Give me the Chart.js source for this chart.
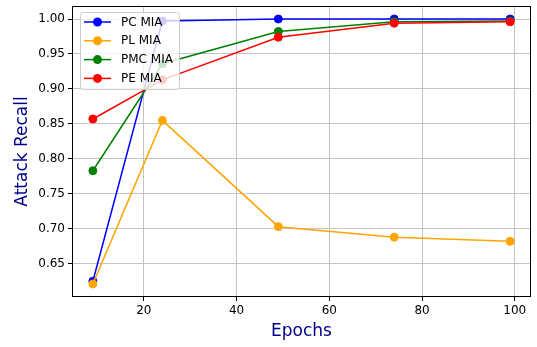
<!DOCTYPE html>
<html>
<head>
<meta charset="utf-8">
<script src="https://cdn.jsdelivr.net/npm/chart.js@4/dist/chart.umd.min.js"></script>
<style>
  html, body { margin: 0; padding: 0; background: #fff; }
  #wrap { width: 537px; height: 347px; }
</style>
</head>
<body>
<div id="wrap"><canvas id="myChart" width="537" height="347"></canvas></div>
<script>
// values
var epochs = [9, 24, 49, 74, 99];
var pcMia = [0.625, 0.997, 1.0, 1.0, 1.0];
var plMia = [0.621, 0.855, 0.703, 0.688, 0.682];
var pmcMia = [0.783, 0.936, 0.982, 0.996, 0.997];
var peMia = [0.857, 0.913, 0.974, 0.994, 0.996];

var labels = ['PC MIA', 'PL MIA', 'PMC MIA', 'PE MIA'];
var colors = ['#0000ff', '#ffa500', '#008000', '#ff0000'];
var xTicks = [20, 40, 60, 80, 100];
var yTicks = [0.65, 0.70, 0.75, 0.80, 0.85, 0.90, 0.95, 1.00];

var series = [pcMia, plMia, pmcMia, peMia];
var FONT = 'DejaVu Sans';

function toPoints(ys) {
  return ys.map(function (y, i) { return { x: epochs[i], y: y }; });
}

var datasets = series.map(function (ys, i) {
  return {
    label: labels[i],
    data: toPoints(ys),
    borderColor: colors[i],
    backgroundColor: colors[i],
    borderWidth: 1.5,
    pointRadius: 4,
    pointBorderWidth: 1,
    pointHoverRadius: 4,
    tension: 0,
    order: series.length - i  // last series on top like matplotlib
  };
});

// frame round the plot + legend box inside it
var framePlugin = {
  id: 'frame',
  afterDraw: function (chart) {
    var c = chart.ctx;
    var a = chart.chartArea;
    c.save();
    c.strokeStyle = '#000';
    c.lineWidth = 1;
    c.strokeRect(Math.round(a.left) + 0.5, Math.round(a.top) + 0.5,
      Math.round(a.right - a.left) - 1, Math.round(a.bottom - a.top) - 1);

    // legend
    var bx = a.left + 8, by = a.top + 6, bw = 99, bh = 77;
    c.beginPath();
    c.roundRect(bx + 0.5, by + 0.5, bw, bh, 3);
    c.fillStyle = 'rgba(255,255,255,0.8)';
    c.fill();
    c.strokeStyle = '#cccccc';
    c.stroke();
    c.font = '12px "' + FONT + '"';
    c.textBaseline = 'middle';
    c.textAlign = 'left';
    for (var i = 0; i < labels.length; i++) {
      var y = by + 10 + i * 18.8;
      c.strokeStyle = colors[i];
      c.lineWidth = 1.5;
      c.beginPath();
      c.moveTo(bx + 4, y);
      c.lineTo(bx + 31, y);
      c.stroke();
      c.fillStyle = colors[i];
      c.beginPath();
      c.arc(bx + 17.5, y, 4.5, 0, Math.PI * 2);
      c.fill();
      c.fillStyle = '#000';
      c.fillText(labels[i], bx + 41, y + 0.5);
    }
    c.restore();
  }
};

new Chart(document.getElementById('myChart'), {
  type: 'line',
  data: { datasets: datasets },
  options: {
    responsive: false,
    animation: false,
    layout: { padding: { left: 0, top: 6, right: 6, bottom: 0 } },
    plugins: {
      legend: { display: false },
      tooltip: { enabled: false }
    },
    scales: {
      x: {
        type: 'linear',
        min: 4.5,
        max: 103.5,
        afterBuildTicks: function (scale) {
          scale.ticks = xTicks.map(function (v) { return { value: v }; });
        },
        afterFit: function (scale) {
          scale.height = 50;
          scale.paddingLeft = 0;
          scale.paddingRight = 0;
        },
        ticks: {
          color: '#000',
          font: { family: FONT, size: 12 },
          padding: 3,
          maxRotation: 0,
          callback: function (v) { return String(v); }
        },
        grid: { color: '#c4c4c4', lineWidth: 1, tickColor: '#000', tickLength: 4 },
        border: { display: false },
        title: {
          display: true,
          text: 'Epochs',
          color: '#00008b',
          font: { family: FONT, size: 17 },
          padding: { top: 0, bottom: 5 }
        }
      },
      y: {
        type: 'linear',
        min: 0.6024,
        max: 1.0186,
        afterBuildTicks: function (scale) {
          scale.ticks = yTicks.map(function (v) { return { value: v }; });
        },
        afterFit: function (scale) {
          scale.width = 72;
          scale.paddingTop = 0;
          scale.paddingBottom = 0;
        },
        ticks: {
          color: '#000',
          font: { family: FONT, size: 12 },
          padding: 3,
          callback: function (v) { return Number(v).toFixed(2); }
        },
        grid: { color: '#c4c4c4', lineWidth: 1, tickColor: '#000', tickLength: 4 },
        border: { display: false },
        title: {
          display: true,
          text: 'Attack Recall',
          color: '#00008b',
          font: { family: FONT, size: 17 },
          padding: { top: 12, bottom: 0 }
        }
      }
    }
  },
  plugins: [framePlugin]
});
</script>
</body>
</html>
